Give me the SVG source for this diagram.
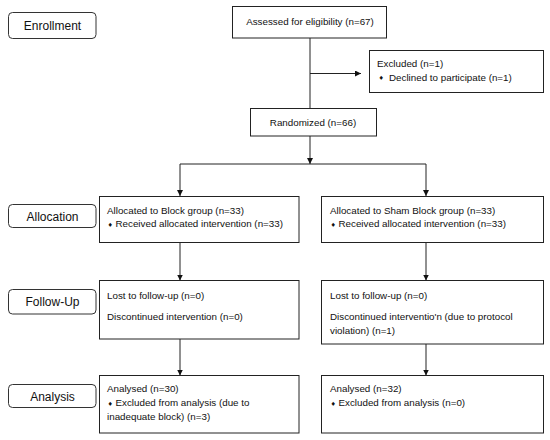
<svg xmlns="http://www.w3.org/2000/svg" width="550" height="440" viewBox="0 0 550 440">
<style>
.box{fill:#fff;stroke:#222;stroke-width:1}
.lbl{fill:#fff;stroke:#333;stroke-width:1}
.t{font-family:"Liberation Sans",Arial,sans-serif;font-size:9.8px;fill:#111}
.h{font-family:"Liberation Sans",Arial,sans-serif;font-size:12px;fill:#111;text-anchor:middle}
.b{font-family:"DejaVu Sans",sans-serif;font-size:6px;fill:#111}
.c{fill:none;stroke:#222;stroke-width:1}
</style>
<defs>
<marker id="ah" viewBox="0 0 10 10" refX="10" refY="5" markerWidth="6" markerHeight="6" markerUnits="userSpaceOnUse" orient="auto">
<path d="M0,0 L10,5 L0,10 z" fill="#111"/>
</marker>
</defs>
<rect width="550" height="440" fill="#fff"/>
<g id="connectors">
<path class="c" d="M310,38 V108"/>
<path class="c" d="M310,73.5 H361" marker-end="url(#ah)"/>
<path class="c" d="M310,136 V164" marker-end="url(#ah)"/>
<path class="c" d="M180,164 H426"/>
<path class="c" d="M180,164 V196" marker-end="url(#ah)"/>
<path class="c" d="M426,164 V196" marker-end="url(#ah)"/>
<path class="c" d="M180,242 V280.5" marker-end="url(#ah)"/>
<path class="c" d="M426,242 V280.5" marker-end="url(#ah)"/>
<path class="c" d="M180,339 V375.5" marker-end="url(#ah)"/>
<path class="c" d="M426,344 V375.5" marker-end="url(#ah)"/>
</g>
<g id="enrollment"><rect class="lbl" x="8.5" y="12.5" width="87.5" height="26" rx="4"/><text class="h" x="52.5" y="29.5">Enrollment</text></g>
<g id="allocation"><rect class="lbl" x="8.5" y="204.5" width="87.5" height="23" rx="4"/><text class="h" x="52.5" y="220.5">Allocation</text></g>
<g id="followup"><rect class="lbl" x="8.5" y="289.5" width="87.5" height="24.5" rx="4"/><text class="h" x="52.5" y="306">Follow-Up</text></g>
<g id="analysis"><rect class="lbl" x="8.5" y="384.5" width="87.5" height="23" rx="4"/><text class="h" x="52.5" y="400.5">Analysis</text></g>
<g id="assessed"><rect class="box" x="232.5" y="6.5" width="154" height="31.5"/><text class="t" x="310" y="25" text-anchor="middle">Assessed for eligibility (n=67)</text></g>
<g id="excluded"><rect class="box" x="369.5" y="50.5" width="174" height="42"/><text class="t" x="377" y="66.5">Excluded  (n=1)</text><text class="b" x="378.5" y="80">♦</text><text class="t" x="389" y="80.5">Declined to participate (n=1)</text></g>
<g id="randomized"><rect class="box" x="250.5" y="108.5" width="126" height="27.5"/><text class="t" x="313" y="126" text-anchor="middle">Randomized (n=66)</text></g>
<g id="alloc-block"><rect class="box" x="99.5" y="196.5" width="199.5" height="46"/><text class="t" x="107" y="213.5">Allocated to Block group (n=33)</text><text class="b" x="107.5" y="227">♦</text><text class="t" x="115.5" y="227">Received allocated intervention (n=33)</text></g>
<g id="alloc-sham"><rect class="box" x="321.5" y="196.5" width="222" height="46"/><text class="t" x="330" y="213.5">Allocated to Sham Block group (n=33)</text><text class="b" x="330.5" y="227">♦</text><text class="t" x="338.5" y="227">Received allocated intervention (n=33)</text></g>
<g id="fu-block"><rect class="box" x="99.5" y="280.5" width="199.5" height="58.5"/><text class="t" x="107" y="298.5">Lost to follow-up (n=0)</text><text class="t" x="107" y="319.5">Discontinued intervention (n=0)</text></g>
<g id="fu-sham"><rect class="box" x="321.5" y="280.5" width="222" height="63.5"/><text class="t" x="330" y="298.5">Lost to follow-up (n=0)</text><text class="t" x="330" y="319.5">Discontinued interventio'n (due to protocol</text><text class="t" x="330" y="333.5">violation) (n=1)</text></g>
<g id="an-block"><rect class="box" x="99.5" y="375.5" width="199.5" height="57.5"/><text class="t" x="107" y="392">Analysed  (n=30)</text><text class="b" x="107.5" y="406">♦</text><text class="t" x="115.5" y="406">Excluded from analysis (due to</text><text class="t" x="107" y="420">inadequate block) (n=3)</text></g>
<g id="an-sham"><rect class="box" x="321.5" y="375.5" width="222" height="57.5"/><text class="t" x="330" y="392">Analysed  (n=32)</text><text class="b" x="330.5" y="406">♦</text><text class="t" x="338.5" y="406">Excluded from analysis (n=0)</text></g>
</svg>
